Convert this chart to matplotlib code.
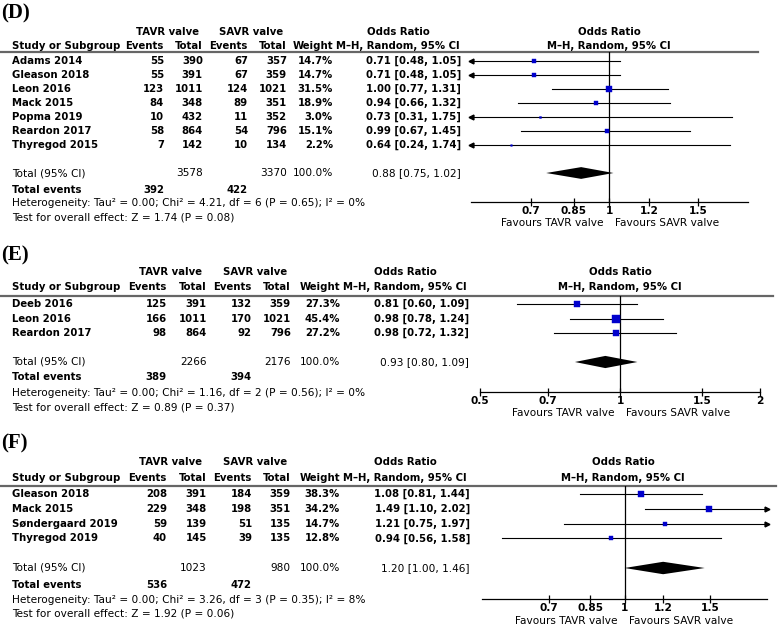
import numpy as np
import matplotlib
matplotlib.use("Agg")
import matplotlib.pyplot as plt

# ---- panel D ----
studies_d = ["Adams 2014", "Gleason 2018", "Leon 2016", "Mack 2015",
             "Popma 2019", "Reardon 2017", "Thyregod 2015"]
tavr_ev_d = [55, 55, 123, 84, 10, 58, 7]
tavr_tot_d = [390, 391, 1011, 348, 432, 864, 142]
savr_ev_d = [67, 67, 124, 89, 11, 54, 10]
savr_tot_d = [357, 359, 1021, 351, 352, 796, 134]
weight_d = [14.7, 14.7, 31.5, 18.9, 3.0, 15.1, 2.2]
or_d = [0.71, 0.71, 1.00, 0.94, 0.73, 0.99, 0.64]
lo_d = [0.48, 0.48, 0.77, 0.66, 0.31, 0.67, 0.24]
hi_d = [1.05, 1.05, 1.31, 1.32, 1.75, 1.45, 1.74]
total_d = [3578, 3370, 392, 422, 0.88, 0.75, 1.02]
het_d = "Heterogeneity: Tau² = 0.00; Chi² = 4.21, df = 6 (P = 0.65); I² = 0%"
test_d = "Test for overall effect: Z = 1.74 (P = 0.08)"
ticks_d = [0.7, 0.85, 1, 1.2, 1.5]
tick_lab_d = ["0.7", "0.85", "1", "1.2", "1.5"]

# ---- panel E ----
studies_e = ["Deeb 2016", "Leon 2016", "Reardon 2017"]
tavr_ev_e = [125, 166, 98]
tavr_tot_e = [391, 1011, 864]
savr_ev_e = [132, 170, 92]
savr_tot_e = [359, 1021, 796]
weight_e = [27.3, 45.4, 27.2]
or_e = [0.81, 0.98, 0.98]
lo_e = [0.60, 0.78, 0.72]
hi_e = [1.09, 1.24, 1.32]
total_e = [2266, 2176, 389, 394, 0.93, 0.80, 1.09]
het_e = "Heterogeneity: Tau² = 0.00; Chi² = 1.16, df = 2 (P = 0.56); I² = 0%"
test_e = "Test for overall effect: Z = 0.89 (P = 0.37)"
ticks_e = [0.5, 0.7, 1, 1.5, 2]
tick_lab_e = ["0.5", "0.7", "1", "1.5", "2"]

# ---- panel F ----
studies_f = ["Gleason 2018", "Mack 2015", "Søndergaard 2019", "Thyregod 2019"]
tavr_ev_f = [208, 229, 59, 40]
tavr_tot_f = [391, 348, 139, 145]
savr_ev_f = [184, 198, 51, 39]
savr_tot_f = [359, 351, 135, 135]
weight_f = [38.3, 34.2, 14.7, 12.8]
or_f = [1.08, 1.49, 1.21, 0.94]
lo_f = [0.81, 1.10, 0.75, 0.56]
hi_f = [1.44, 2.02, 1.97, 1.58]
total_f = [1023, 980, 536, 472, 1.20, 1.00, 1.46]
het_f = "Heterogeneity: Tau² = 0.00; Chi² = 3.26, df = 3 (P = 0.35); I² = 8%"
test_f = "Test for overall effect: Z = 1.92 (P = 0.06)"
ticks_f = [0.7, 0.85, 1, 1.2, 1.5]
tick_lab_f = ["0.7", "0.85", "1", "1.2", "1.5"]

W, H = 778, 628
FS_B = 7.3   # bold text
FS_R = 7.6   # regular text
BLUE = "#0000cc"

fig = plt.figure(figsize=(W / 100, H / 100), dpi=100)
tax = fig.add_axes([0, 0, 1, 1])
tax.set_xlim(0, W)
tax.set_ylim(H, 0)
tax.axis("off")


def txt(x, y, s, ha="left", bold=True, **kw):
    tax.text(x, y, s, ha=ha, va="center", fontsize=FS_B if bold else FS_R,
             fontweight="bold" if bold else "normal", family="DejaVu Sans", **kw)


def panel(label, studies, tev, ttot, sev, stot, wt, est, lo, hi, total, het, test,
          ticks, tick_labels, lay):
    n = len(studies)
    y0, step = lay["row0"], lay["step"]
    c = lay["cols"]
    # panel label
    tax.text(1, lay["label_y"], label, ha="left", va="center", fontsize=15,
             fontweight="bold", family="Liberation Serif")
    # headers
    h1, h2 = lay["head"]
    txt((c[0] + c[1]) / 2 - 16, h1, "TAVR valve", ha="center")
    txt((c[2] + c[3]) / 2 - 16, h1, "SAVR valve", ha="center")
    txt(lay["or_c"], h1, "Odds Ratio", ha="center")
    txt(lay["px1"], h1, "Odds Ratio", ha="center")
    txt(12, h2, "Study or Subgroup")
    for x, s in zip(c[:5], ["Events", "Total", "Events", "Total", "Weight"]):
        txt(x, h2, s, ha="right")
    txt(lay["or_c"], h2, "M\u2013H, Random, 95% CI", ha="center")
    txt(lay["px1"], h2, "M\u2013H, Random, 95% CI", ha="center")
    tax.plot([0, lay["sep_x1"]], [lay["sep_y"], lay["sep_y"]], color="#666666", lw=1.6)

    # study rows
    for i in range(n):
        y = y0 + i * step
        txt(12, y, studies[i])
        for x, v in zip(c[:4], [tev[i], ttot[i], sev[i], stot[i]]):
            txt(x, y, str(v), ha="right")
        txt(c[4], y, f"{wt[i]:.1f}%", ha="right")
        txt(c[5], y, f"{est[i]:.2f} [{lo[i]:.2f}, {hi[i]:.2f}]", ha="right")

    yt = y0 + (n + 1) * step
    txt(12, yt, "Total (95% CI)", bold=False)
    txt(c[1], yt, str(total[0]), ha="right", bold=False)
    txt(c[3], yt, str(total[1]), ha="right", bold=False)
    txt(c[4], yt, "100.0%", ha="right", bold=False)
    txt(c[5], yt, f"{total[4]:.2f} [{total[5]:.2f}, {total[6]:.2f}]", ha="right", bold=False)
    ye = lay["ev_y"]
    txt(12, ye, "Total events")
    txt(c[0], ye, str(total[2]), ha="right")
    txt(c[2], ye, str(total[3]), ha="right")
    txt(12, lay["het_y"], het, bold=False)
    txt(12, lay["test_y"], test, bold=False)

    # forest plot axes
    ax0, ax1 = lay["ax_x"]
    top, bot = lay["sep_y"], lay["axis_y"]
    ax = fig.add_axes([ax0 / W, 1 - bot / H, (ax1 - ax0) / W, (bot - top) / H])
    ax.patch.set_alpha(0)
    ax.set_xscale("log")
    ax.set_xlim(*lay["xlim"])
    ax.set_ylim((bot - y0) / step, (top - y0) / step)
    xmin, xmax = lay["xlim"]
    ax.axvline(1, color="black", lw=0.9)
    for i in range(n):
        ax.plot([lo[i], hi[i]], [i, i], color="black", lw=0.8)
        if lo[i] < xmin:
            ax.plot(xmin, i, marker="<", ms=3.5, color="black", clip_on=False)
        if hi[i] > xmax:
            ax.plot(xmax, i, marker=">", ms=3.5, color="black", clip_on=False)
        ax.plot(est[i], i, marker="s", ms=0.8 * np.sqrt(wt[i]), color=BLUE,
                mec=BLUE, mew=0.3, ls="none")
    dh = 0.42
    ax.fill([total[5], total[4], total[6], total[4]],
            [n + 1, n + 1 - dh, n + 1, n + 1 + dh], color="black", lw=0)
    for s in ["top", "left", "right"]:
        ax.spines[s].set_visible(False)
    ax.spines["bottom"].set_linewidth(0.9)
    ax.set_yticks([])
    ax.set_xticks(ticks)
    ax.set_xticklabels(tick_labels, fontweight="bold")
    ax.minorticks_off()
    ax.tick_params(axis="x", direction="inout", length=6, width=0.9, labelsize=7.6, pad=0)
    txt(lay["px1"] - 5, lay["fav_y"], "Favours TAVR valve", ha="right", bold=False)
    txt(lay["px1"] + 6, lay["fav_y"], "Favours SAVR valve", ha="left", bold=False)


lay_d = dict(label_y=13, head=(32, 46), sep_y=52, sep_x1=758, row0=61, step=14,
             cols=[164, 203, 248, 287, 333, 461], or_c=398, px1=609,
             ev_y=190, het_y=203, test_y=217, ax_x=(471, 748), xlim=(0.532, 1.886),
             axis_y=202, fav_y=223)
lay_e = dict(label_y=255, head=(272, 287), sep_y=296, sep_x1=773, row0=304, step=14.5,
             cols=[167, 207, 252, 291, 340, 469], or_c=405, px1=620,
             ev_y=377, het_y=393, test_y=407, ax_x=(480, 760), xlim=(0.5, 2.0),
             axis_y=392, fav_y=413)
lay_f = dict(label_y=443, head=(462, 478), sep_y=486, sep_x1=776, row0=494, step=14.8,
             cols=[167, 207, 252, 291, 340, 470], or_c=405, px1=623,
             ev_y=585, het_y=600, test_y=614, ax_x=(482, 767), xlim=(0.51, 1.96),
             axis_y=599, fav_y=621)

panel("(D)", studies_d, tavr_ev_d, tavr_tot_d, savr_ev_d, savr_tot_d, weight_d,
      or_d, lo_d, hi_d, total_d, het_d, test_d, ticks_d, tick_lab_d, lay_d)
panel("(E)", studies_e, tavr_ev_e, tavr_tot_e, savr_ev_e, savr_tot_e, weight_e,
      or_e, lo_e, hi_e, total_e, het_e, test_e, ticks_e, tick_lab_e, lay_e)
panel("(F)", studies_f, tavr_ev_f, tavr_tot_f, savr_ev_f, savr_tot_f, weight_f,
      or_f, lo_f, hi_f, total_f, het_f, test_f, ticks_f, tick_lab_f, lay_f)

fig.savefig("out.png", dpi=100)
